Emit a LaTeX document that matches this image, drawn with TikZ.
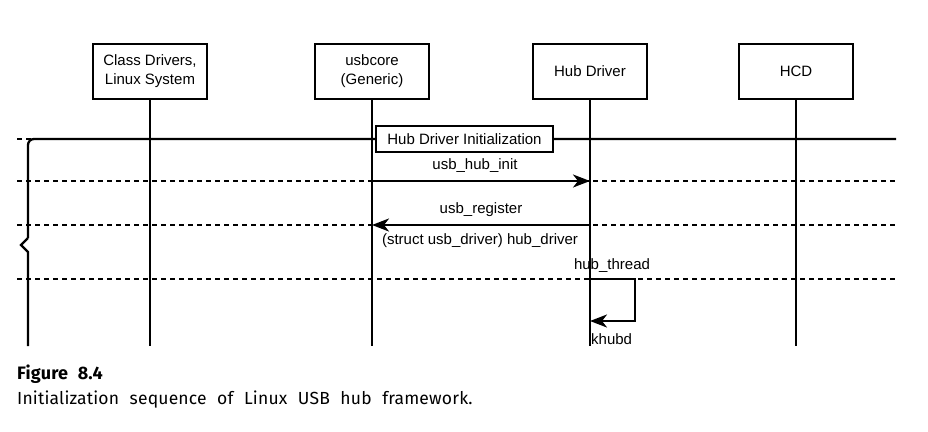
\documentclass[tikz,border=0pt]{standalone}
\usepackage{fontspec}
\setmainfont{Liberation Sans}
\newfontfamily\capfont[WordSpace=2.2,LetterSpace=1]{Fira Sans}
\usetikzlibrary{arrows.meta}
\begin{document}
\begin{tikzpicture}[x=1pt,y=-1pt,
 actor/.style={draw, line width=2.4pt, minimum width=114pt, minimum height=55pt, align=center, font=\fontsize{15}{19}\selectfont, inner sep=0pt},
 life/.style={line width=2.3pt},
 sep/.style={line width=2pt, dash pattern=on 5pt off 4pt},
 msg/.style={line width=2.3pt, -{Stealth[length=17pt,width=13pt,inset=5pt]}},
 lbl/.style={font=\fontsize{15}{18}\selectfont, inner sep=0pt},
 bracket/.style={line width=2.3pt},
 captext/.style={font=\capfont\fontsize{17.5}{20}\selectfont, inner sep=0pt, anchor=west},
]
\useasboundingbox (0,0) rectangle (928,431);
% actors
\node[actor] (a1) at (150,71.5) {Class Drivers,\\Linux System};
\node[actor] (a2) at (372,71.5) {usbcore\\(Generic)};
\node[actor] (a3) at (590,71.5) {Hub Driver};
\node[actor] (a4) at (796,71.5) {HCD};
% lifeline ends
\coordinate (e1) at (150,346);
\coordinate (e2) at (372,346);
\coordinate (e3) at (590,346);
\coordinate (e4) at (796,346);
\draw[life] (a1.south) -- (e1);
\draw[life] (a2.south) -- (e2);
\draw[life] (a3.south) -- (e3);
\draw[life] (a4.south) -- (e4);
% separators
\coordinate (sL1) at (17,139); \coordinate (sR1) at (896,139);
\coordinate (sL2) at (17,181); \coordinate (sR2) at (896,181);
\coordinate (sL3) at (17,225); \coordinate (sR3) at (896,225);
\coordinate (sL4) at (17,279); \coordinate (sR4) at (896,279);
\draw[sep] (sL1) -- (sR1);
\draw[sep] (sL2) -- (sR2);
\draw[sep] (sL3) -- (sR3);
\draw[sep] (sL4) -- (sR4);
% bracket
\coordinate (b0) at (28,346);
\coordinate (b1) at (28,252);
\coordinate (b2) at (21,245);
\coordinate (b3) at (28,238);
\coordinate (b4) at (28,139);
\draw[bracket] (b0) -- (b1) -- (b2) -- (b3);
\draw[bracket, rounded corners=6pt] (b3) -- (b4) -- (sR1);
% frame title
\node[draw, line width=2.4pt, fill=white, minimum width=177pt, minimum height=26pt, font=\fontsize{15}{18}\selectfont, inner sep=0pt] (init) at (464.5,139) {Hub Driver Initialization};
% messages
\coordinate (m1s) at (372,181); \coordinate (m1e) at (590,181);
\draw[msg] (m1s) -- (m1e);
\node[lbl] (l1) at (475,166) {usb\_hub\_init};
\coordinate (m2s) at (590,225); \coordinate (m2e) at (372,225);
\draw[msg] (m2s) -- (m2e);
\node[lbl] (l2) at (481,210) {usb\_register};
\node[lbl] (l3) at (480,241) {(struct usb\_driver) hub\_driver};
% self loop
\coordinate (s0) at (590,279); \coordinate (s1) at (635,279);
\coordinate (s2) at (635,321); \coordinate (s3) at (590,321);
\draw[msg] (s0) -- (s1) -- (s2) -- (s3);
\node[lbl] (l4) at (612,266) {hub\_thread};
\node[lbl, anchor=west] (l5) at (591,339) {khubd};
% caption
\node[captext, font=\capfont\bfseries\fontsize{18}{20}\selectfont] (c1) at (17,374) {Figure 8.4};
\node[captext] (c2) at (17,400) {Initialization sequence of Linux USB hub framework.};
\end{tikzpicture}
\end{document}
